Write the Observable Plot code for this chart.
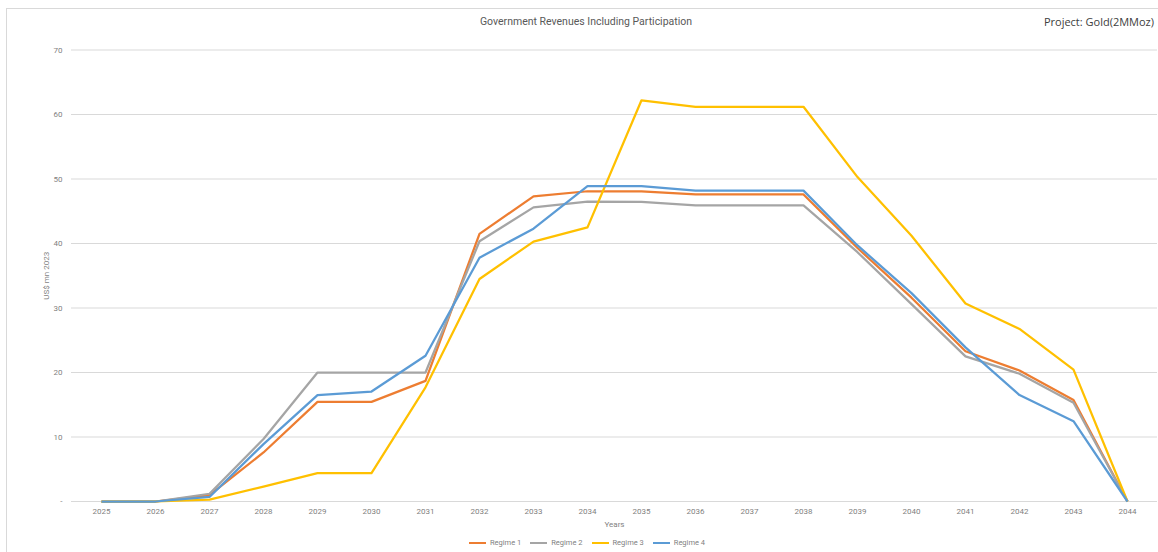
<!DOCTYPE html>
<html><head><meta charset="utf-8">
<script src="https://cdn.jsdelivr.net/npm/d3@7"></script>
<script src="https://cdn.jsdelivr.net/npm/@observablehq/plot@0.6"></script>
<style>
body{margin:0;overflow:hidden;background:#fff;font-family:Roboto,"Noto Sans",sans-serif;}
#wrap{position:relative;width:1158px;height:552px;overflow:hidden;}
#frame{position:absolute;left:6px;top:8px;width:1170px;height:570px;border:1px solid #d9d9d9;box-sizing:border-box;}
#title{position:absolute;top:15px;left:0;width:1172px;text-align:center;font-size:10.5px;color:#595959;line-height:14px;}
#project{position:absolute;top:15px;right:4px;font-size:11px;color:#404040;line-height:14px;font-family:"Open Sans",Roboto,sans-serif;}
#chart{position:absolute;left:0;top:0;}
#legend{position:absolute;top:537px;left:0;width:1174px;display:flex;justify-content:center;gap:9px;font-size:7.5px;color:#7f7f7f;line-height:12px;}
.item{display:flex;align-items:center;gap:4px;}
.sw{width:17px;height:2.25px;}
</style></head>
<body>
<div id="wrap">
  <div id="frame"></div>
  <div id="chart"></div>
  <div id="title">Government Revenues Including Participation</div>
  <div id="project">Project: Gold(2MMoz)</div>
  <div id="legend"></div>
</div>
<script>
const years = ["2025","2026","2027","2028","2029","2030","2031","2032","2033","2034","2035","2036","2037","2038","2039","2040","2041","2042","2043","2044"];
const seriesNames = ["Regime 1","Regime 2","Regime 3","Regime 4"];
const seriesColors = ["#ED7D31","#A5A5A5","#FFC000","#5B9BD5"];
const regime1 = [0,0,1.0,7.6,15.45,15.45,18.7,41.5,47.3,48.1,48.1,47.6,47.6,47.6,39.3,31.6,23.3,20.3,15.75,0];
const regime2 = [0,0,1.2,9.7,20.0,20.0,20.0,40.35,45.6,46.5,46.45,45.9,45.9,45.9,38.65,30.6,22.5,19.8,15.3,0];
const regime3 = [0,0,0.3,2.3,4.4,4.4,17.7,34.5,40.3,42.5,62.2,61.2,61.2,61.2,50.3,41.2,30.7,26.75,20.45,0];
const regime4 = [0,0,0.7,8.9,16.5,17.05,22.6,37.8,42.3,48.9,48.9,48.2,48.2,48.2,39.7,32.3,23.9,16.5,12.45,0];
const yTicks = [0,10,20,30,40,50,60,70];
const yTickLabels = ["-","10","20","30","40","50","60","70"];

const allSeries = [regime1, regime2, regime3, regime4];
const data = [];
allSeries.forEach((vals, s) => vals.forEach((v, i) => data.push({year: years[i], value: v, series: seriesNames[s]})));

const plot = Plot.plot({
  width: 1158,
  height: 540,
  marginLeft: 71,
  marginRight: 1,
  marginTop: 49.5,
  marginBottom: 39,
  style: {fontFamily: "Roboto, 'Noto Sans', sans-serif", fontSize: "8px", color: "#7f7f7f", background: "transparent", overflow: "visible"},
  x: {type: "point", domain: years, range: [71, 1157], padding: 0.5},
  y: {domain: [0, 70]},
  color: {domain: seriesNames, range: seriesColors},
  marks: [
    Plot.ruleY(yTicks, {stroke: "#d9d9d9", strokeWidth: 1}),
    Plot.axisY({ticks: yTicks, tickSize: 0, tickPadding: 9, tickFormat: d => yTickLabels[yTicks.indexOf(d)], label: "US$ mn 2023", labelAnchor: "center", labelOffset: 28, labelArrow: "none"}),
    Plot.axisX({tickSize: 0, tickPadding: 7, label: "Years", labelAnchor: "center", labelOffset: 25, labelArrow: "none"}),
    Plot.line(data, {x: "year", y: "value", z: "series", stroke: "series", strokeWidth: 2.25, strokeLinejoin: "round", strokeLinecap: "butt"})
  ]
});
document.getElementById("chart").appendChild(plot);

const legend = document.getElementById("legend");
seriesNames.forEach((n, i) => {
  const it = document.createElement("div");
  it.className = "item";
  it.innerHTML = `<span class="sw" style="background:${seriesColors[i]}"></span><span>${n}</span>`;
  legend.appendChild(it);
});
</script>
</body></html>
